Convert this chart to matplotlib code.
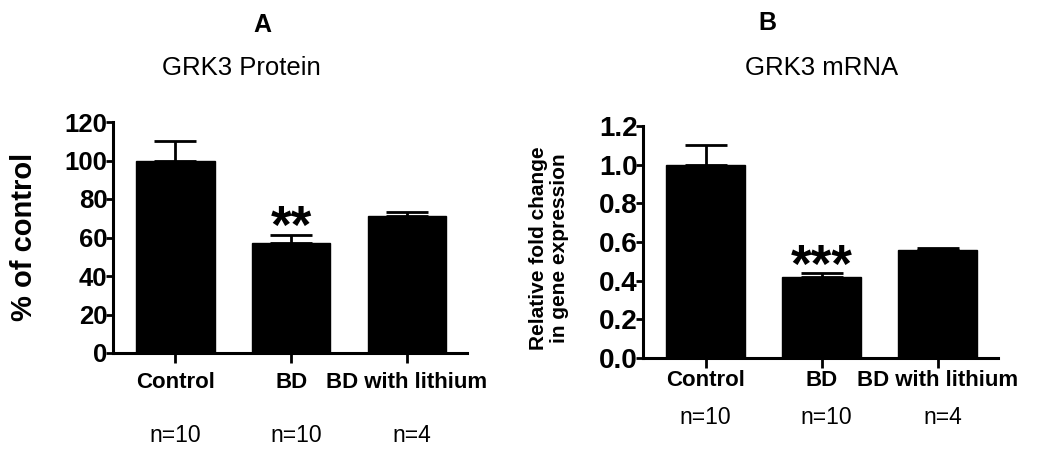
import numpy as np
import matplotlib
matplotlib.use("Agg")
import matplotlib.pyplot as plt

plt.rcParams['font.family'] = ['Liberation Sans', 'DejaVu Sans']

# Data
groups = ['Control', 'BD', 'BD with lithium']
n_labels = ['n=10', 'n=10', 'n=4']

protein_mean = [100, 57, 71]
protein_sem = [10, 4.5, 2.5]
protein_stars = ['', '**', '']

mrna_mean = [1.0, 0.42, 0.56]
mrna_sem = [0.10, 0.02, 0.01]
mrna_stars = ['', '***', '']

W, H = 1050, 458
fig = plt.figure(figsize=(W / 100, H / 100), dpi=100)


def fx(px):
    return px / W


def fy(py):
    return 1 - py / H


def draw_panel(rect, means, sems, stars, ymax, yticks, ticklabels, tick_fs, star_off):
    ax = fig.add_axes(rect)
    x = np.arange(len(means))
    ax.bar(x, means, width=0.68, color='black', edgecolor='black', zorder=2)
    ax.errorbar(x, means, yerr=[np.zeros(len(sems)), sems], fmt='none',
                ecolor='black', elinewidth=2, capsize=15, capthick=2, zorder=1)
    for xi, m, s, st in zip(x, means, sems, stars):
        if st:
            ax.annotate(st, xy=(xi, m + s), xytext=(0, star_off), textcoords='offset points',
                        ha='center', va='baseline', fontsize=38, fontweight='bold')
    ax.set_xlim(-0.54, 2.52)
    ax.set_ylim(0, ymax)
    ax.set_yticks(yticks)
    ax.set_yticklabels(ticklabels, fontsize=tick_fs, fontweight='bold')
    ax.set_xticks(x)
    ax.set_xticklabels([])
    for side in ['top', 'right']:
        ax.spines[side].set_visible(False)
    for side in ['left', 'bottom']:
        ax.spines[side].set_linewidth(2.2)
    ax.tick_params(axis='y', length=5, width=2, pad=-1)
    ax.tick_params(axis='x', length=7, width=2)
    return ax


# Panel A
axA = draw_panel([fx(113), fy(353), fx(467 - 113), (353 - 122) / H],
                 protein_mean, protein_sem, protein_stars, 120,
                 [0, 20, 40, 60, 80, 100, 120],
                 ['0', '20', '40', '60', '80', '100', '120'], 18.5, -6)
# Panel B
axB = draw_panel([fx(643), fy(358), fx(998 - 643), (358 - 126) / H],
                 mrna_mean, mrna_sem, mrna_stars, 1.2,
                 [0, 0.2, 0.4, 0.6, 0.8, 1.0, 1.2],
                 ['0.0', '0.2', '0.4', '0.6', '0.8', '1.0', '1.2'], 20, -6.5)

# Category and n labels, centred under the bars
for ax, ylab, yn in [(axA, 382, 436), (axB, 380, 418)]:
    for i, (g, n) in enumerate(zip(groups, n_labels)):
        disp_x = ax.transData.transform((i, 0))[0]
        fig.text(disp_x / W, fy(ylab), g, ha='center', va='center',
                 fontsize=16, fontweight='bold')
        fig.text(disp_x / W + (5 / W if i > 0 else 0), fy(yn), n, ha='center', va='center',
                 fontsize=16.5)

# Y labels
fig.text(fx(24), fy(237), '% of control', rotation=90, ha='center', va='center',
         fontsize=21, fontweight='bold')
fig.text(fx(549), fy(248), 'Relative fold change\nin gene expression', rotation=90,
         ha='center', va='center', fontsize=15, fontweight='bold', linespacing=1.1)

# Titles
fig.text(fx(262), fy(25), 'A', ha='center', va='center', fontsize=18, fontweight='bold')
fig.text(fx(241), fy(68), 'GRK3 Protein', ha='center', va='center', fontsize=18.5)
fig.text(fx(767), fy(23), 'B', ha='center', va='center', fontsize=18, fontweight='bold')
fig.text(fx(822), fy(68), 'GRK3 mRNA', ha='center', va='center', fontsize=18.5)

fig.savefig('out.png', dpi=100)
